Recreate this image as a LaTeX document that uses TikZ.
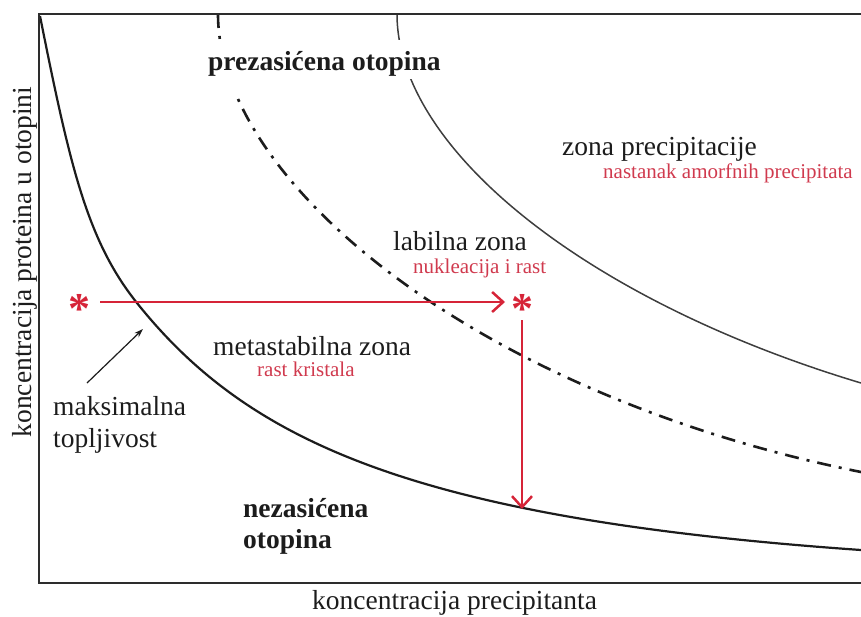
\documentclass[tikz,border=0pt]{standalone}
\usepackage{fontspec}
\setmainfont{Liberation Serif}
\usetikzlibrary{arrows.meta}
\definecolor{redline}{RGB}{214,36,56}
\definecolor{redtext}{RGB}{208,58,78}
\definecolor{ink}{RGB}{28,28,28}
\definecolor{framec}{RGB}{45,45,45}
\begin{document}
\begin{tikzpicture}[x=1pt,y=-1pt,
  lbl/.style={font=\fontsize{27.5}{31}\selectfont, text=ink, inner sep=0pt, anchor=base west},
  blbl/.style={lbl, font=\fontsize{27.5}{31}\selectfont\bfseries},
  rlbl/.style={font=\fontsize{21}{24}\selectfont, text=redtext, inner sep=0pt, anchor=base west},
  starmark/.style={font=\fontsize{44}{44}\selectfont\bfseries, text=redline, inner sep=0pt, anchor=base},
  framel/.style={draw=framec, line width=2.6pt},
  solcurve/.style={draw=ink, line width=2.2pt},
  outcurve/.style={draw=ink!85, line width=1.5pt},
  dashcurve/.style={draw=ink, line width=2.6pt, dash pattern=on 14pt off 8pt on 3pt off 8pt},
  redarrow/.style={draw=redline, line width=2.5pt, -{Straight Barb[length=11pt,width=20pt]}},
  blackarrow/.style={draw=ink, line width=1.2pt, -{Stealth[length=9pt,width=6pt]}}
]
\useasboundingbox (0,0) rectangle (861,616);

% curves
\draw[solcurve] (40,16) .. controls (70,166) and (87,240.5) .. (137,303)
   .. controls (247,440.5) and (411,518.5) .. (861,550);
\draw[dashcurve] (218,14) .. controls (218,184) and (481,396) .. (861,472);
\draw[outcurve] (397,14) .. controls (397,149) and (586,300.5) .. (861,383);

% white area behind the title
\fill[white] (203,40) rectangle (452,79);
\fill[white] (203,40) rectangle (239,97);

% frame
\draw[framel] (861,14) -- (39,14) -- (39,583) -- (861,583);

% texts
\node[blbl] (prez) at (208,70) {prezasićena otopina};
\node[lbl] (zona) at (562,155) {zona precipitacije};
\node[rlbl] (amorf) at (603,178) {nastanak amorfnih precipitata};
\node[lbl] (labil) at (393,250) {labilna zona};
\node[rlbl] (nukl) at (413,273) {nukleacija i rast};
\node[lbl] (meta) at (213,355) {metastabilna zona};
\node[rlbl] (rast) at (257,376) {rast kristala};
\node[lbl] (maks1) at (53,415) {maksimalna};
\node[lbl] (maks2) at (53,447) {topljivost};
\node[blbl] (nez1) at (243,517) {nezasićena};
\node[blbl] (nez2) at (243,548) {otopina};
\node[lbl] (xlab) at (312,609) {koncentracija precipitanta};
\node[lbl, anchor=base, rotate=90] (ylab) at (31,262) {koncentracija proteina u otopini};

% stars
\node[starmark] (s1) at (79,323) {*};
\node[starmark] (s2) at (522,323) {*};

% arrows
\coordinate (h1) at (100,302);
\coordinate (h2) at (505,302);
\coordinate (v1) at (522,320);
\coordinate (v2) at (522,509);
\coordinate (m1) at (87,383);
\coordinate (m2) at (143,329);
\draw[redarrow] (h1) -- (h2);
\draw[redarrow] (v1) -- (v2);
\draw[blackarrow] (m1) -- (m2);
\end{tikzpicture}
\end{document}
